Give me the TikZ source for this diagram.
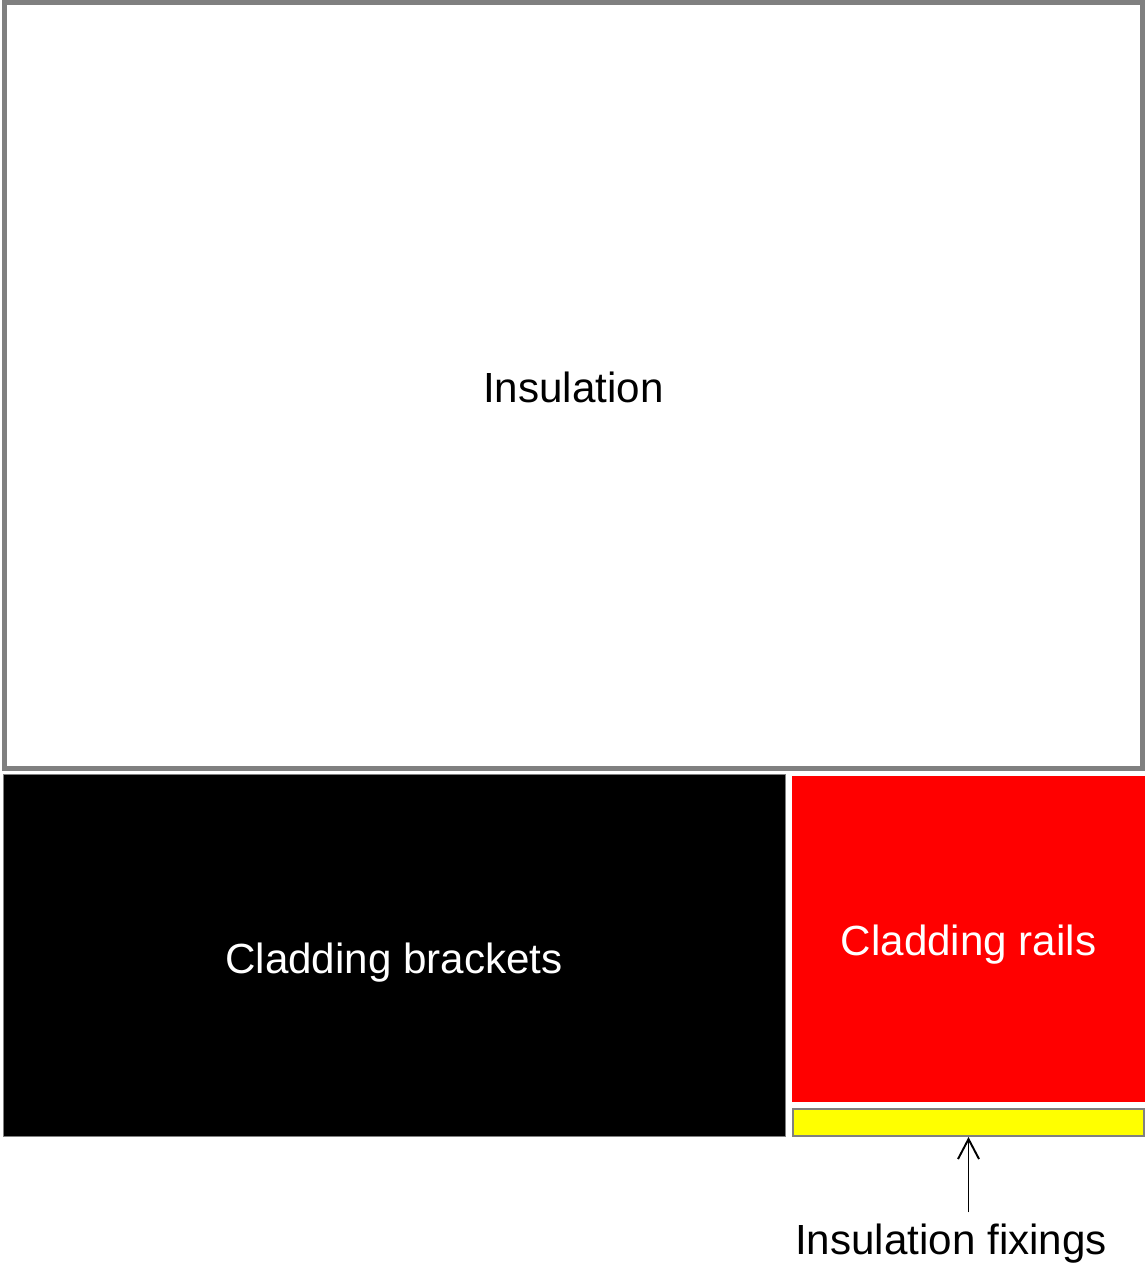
\documentclass[tikz,border=0pt]{standalone}
\usepackage{fontspec}
\setmainfont{Liberation Sans}
\usetikzlibrary{arrows.meta}
\definecolor{edgegray}{HTML}{808080}
\definecolor{railred}{HTML}{FF0000}
\definecolor{fixyellow}{HTML}{FFFF00}
\tikzset{
  panel/.style={rectangle, inner sep=0pt},
  panel text/.style={inner sep=0pt, font=\fontsize{24}{28}\selectfont},
  label/.style={inner sep=2pt, font=\fontsize{24}{28}\selectfont}
}
\begin{document}
\begin{tikzpicture}[x=0.02cm,y=-0.02cm]
  \useasboundingbox (0,0) rectangle (1145,1263);

  % Insulation (large area)
  \node[panel, draw=edgegray, line width=2.8pt, fill=white,
        minimum width=22.76cm, minimum height=15.32cm] (insul) at (573.5,385.5) {};

  % Cladding brackets and rails
  \node[panel, draw=edgegray, line width=0.3pt, fill=black,
        minimum width=15.64cm, minimum height=7.24cm] (brackets) at (394,955) {};
  \node[panel, fill=railred,
        minimum width=7.06cm, minimum height=6.52cm] (rails) at (968.5,939) {};

  % Insulation fixings strip
  \node[panel, draw=edgegray, line width=1.1pt, fill=fixyellow,
        minimum width=7.02cm, minimum height=0.54cm] (fixings) at (968.5,1122.5) {};

  % Panel texts
  \node[panel text] (insultext) at ([yshift=-1.1pt]insul.center) {Insulation};
  \node[panel text, text=white] (bracketstext) at ([yshift=-4.5pt]brackets.center) {Cladding brackets};
  \node[panel text, text=white] (railstext) at ([yshift=-3.4pt]rails.center) {Cladding rails};

  % Label with arrow
  \node[label] (fixlabel) at (951,1244) {Insulation fixings};
  \draw[-{Straight Barb[length=4mm,width=4.2mm]}, line width=1.1pt, shorten <=0.16cm]
    (fixlabel.north -| fixings.south) -- (fixings.south);

\end{tikzpicture}
\end{document}
